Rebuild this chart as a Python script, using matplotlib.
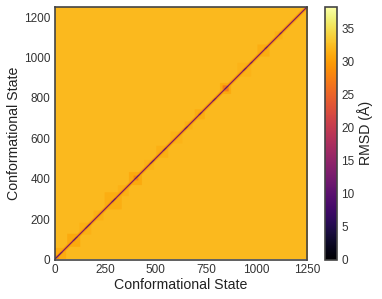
import numpy as np
import matplotlib
matplotlib.use("Agg")
import matplotlib.pyplot as plt

plt.rcParams['font.family'] = ['Liberation Sans', 'DejaVu Sans']

n_states = 1250
background_rmsd = 32.2
x_ticks = [0, 250, 500, 750, 1000, 1250]
y_ticks = [0, 200, 400, 600, 800, 1000, 1200]
cbar_ticks = [0, 5, 10, 15, 20, 25, 30, 35]
rmsd_max = 38.3

# broad pale clusters along the diagonal: start, end, RMSD
pale_starts = [0, 60, 120, 190, 245, 310, 365, 440, 500, 570, 640, 690, 815, 900, 1000, 1085]
pale_ends =   [55, 125, 180, 240, 330, 365, 430, 490, 560, 630, 680, 740, 870, 970, 1060, 1125]
pale_rmsd =   [31.2, 31.0, 31.6, 31.7, 31.4, 31.7, 31.0, 31.8, 31.5, 31.8, 31.7, 31.3, 31.0, 31.8, 31.4, 31.6]

# stronger cores inside the clusters
core_starts = [0, 85, 275, 388, 530, 708, 828, 962, 1033, 1107]
core_ends =   [20, 100, 292, 412, 542, 722, 858, 973, 1047, 1118]
core_rmsd =   [29.0, 30.0, 30.5, 28.5, 30.5, 29.5, 27.5, 29.5, 29.5, 29.5]

# dark beads on the diagonal: start, end
bead_starts = [0, 90, 150, 280, 395, 470, 535, 640, 712, 780, 838, 930, 965, 1038, 1110]
bead_ends =   [35, 110, 175, 300, 415, 490, 550, 655, 725, 795, 855, 945, 975, 1050, 1120]
bead_half_width = 4
bead_rmsd = 12.0

# diagonal band: half width in states, RMSD at that distance
band_offsets = [2, 4, 8, 14]
band_rmsd = [9.0, 21.0, 29.0, 31.0]

M = np.full((n_states, n_states), background_rmsd)
for s, e, v in zip(pale_starts, pale_ends, pale_rmsd):
    M[s:e, s:e] = v
for s, e, v in zip(core_starts, core_ends, core_rmsd):
    M[s:e, s:e] = v
for w, v in sorted(zip(band_offsets, band_rmsd), reverse=True):
    for i in range(n_states):
        lo, hi = max(0, i - w), min(n_states, i + w + 1)
        M[i, lo:hi] = np.minimum(M[i, lo:hi], v)
for s, e in zip(bead_starts, bead_ends):
    for i in range(s, e):
        lo, hi = max(0, i - bead_half_width), min(n_states, i + bead_half_width + 1)
        M[i, lo:hi] = np.minimum(M[i, lo:hi], bead_rmsd)

fig = plt.figure(figsize=(3.82, 2.99), dpi=100)
ax = fig.add_axes([54.5 / 382, 1 - 259.5 / 299, 252.5 / 382, 252.5 / 299])
im = ax.imshow(M, origin='lower', cmap='inferno', vmin=0, vmax=rmsd_max,
               extent=[0, n_states, 0, n_states], aspect='auto', interpolation='antialiased')
ax.set_xticks(x_ticks)
ax.set_yticks(y_ticks)
ax.tick_params(length=0, labelsize=8.5, colors='#333333', pad=3)
ax.set_xlabel('Conformational State', fontsize=10.2, color='#222222', labelpad=1.5)
ax.set_ylabel('Conformational State', fontsize=10.2, color='#222222', labelpad=2)
for sp in ax.spines.values():
    sp.set_linewidth(1.2)
    sp.set_color('#444444')

cax = fig.add_axes([324.5 / 382, 1 - 259.5 / 299, 12.5 / 382, 252.5 / 299])
cb = fig.colorbar(im, cax=cax)
cb.set_ticks(cbar_ticks)
cb.ax.tick_params(length=0, labelsize=8.5, colors='#333333', pad=3)
cb.set_label('RMSD (Å)', fontsize=10.2, color='#222222', labelpad=2)
cb.outline.set_linewidth(1.2)
cb.outline.set_edgecolor('#444444')

fig.savefig('out.png', dpi=100)
